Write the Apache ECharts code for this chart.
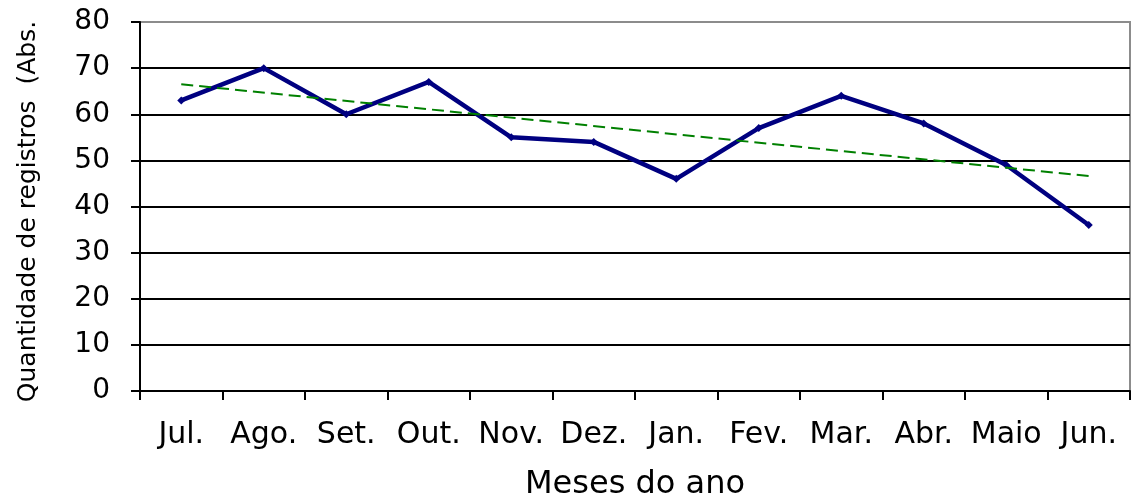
<!DOCTYPE html>
<html>
<head>
<meta charset="utf-8">
<script src="https://cdn.jsdelivr.net/npm/echarts@6/dist/echarts.min.js"></script>
<style>html,body{margin:0;padding:0;background:#fff}#c{width:1131px;height:498px}</style>
</head>
<body>
<div id="c"></div>
<script>
const categories = ['Jul.', 'Ago.', 'Set.', 'Out.', 'Nov.', 'Dez.', 'Jan.', 'Fev.', 'Mar.', 'Abr.', 'Maio', 'Jun.'];
const registros = [63, 70, 60, 67, 55, 54, 46, 57, 64, 58, 49, 36];
const trendStart = 66.5;
const trendEnd = 46.6;
const yTicks = [0, 80, 10];

const FONT = 'DejaVu Sans';
const chart = echarts.init(document.getElementById('c'), null, {renderer: 'canvas'});
chart.setOption({
  animation: false,
  backgroundColor: '#fff',
  grid: {left: 140, right: 1, top: 22, bottom: 107, show: true, borderColor: '#8c8c8c', borderWidth: 2,
         backgroundColor: 'transparent', containLabel: false, outerBoundsMode: 'none'},
  xAxis: {
    type: 'category',
    data: categories,
    boundaryGap: true,
    name: 'Meses do ano',
    nameLocation: 'middle',
    nameGap: 78,
    nameTextStyle: {fontFamily: FONT, fontSize: 32, color: '#000'},
    axisLine: {lineStyle: {color: '#000', width: 2}},
    axisTick: {show: true, length: 9, lineStyle: {color: '#000', width: 2}, alignWithLabel: false},
    axisLabel: {fontFamily: FONT, fontSize: 30, color: '#000', margin: 29, interval: 0},
    splitLine: {show: false}
  },
  yAxis: {
    type: 'value',
    min: yTicks[0], max: yTicks[1], interval: yTicks[2],
    name: 'Quantidade de registros  (Abs.',
    nameLocation: 'middle',
    nameGap: 99,
    nameRotate: 90,
    nameTextStyle: {fontFamily: FONT, fontSize: 25, color: '#000', padding: [0, 10, 0, 0]},
    axisLine: {show: true, lineStyle: {color: '#000', width: 2}},
    axisTick: {show: true, length: 9, lineStyle: {color: '#000', width: 2}},
    axisLabel: {fontFamily: FONT, fontSize: 28, color: '#000', margin: 30},
    splitLine: {show: true, lineStyle: {color: ['#000','#000','#000','#000','#000','#000','#000','#000','#8c8c8c'], width: 2}}
  },
  series: [
    {
      type: 'line',
      data: registros,
      symbol: 'diamond',
      symbolSize: 8,
      lineStyle: {color: '#000080', width: 4.5},
      itemStyle: {color: '#000080'},
      z: 3
    },
    {
      type: 'line',
      data: [[categories[0], trendStart], [categories[categories.length - 1], trendEnd]],
      symbol: 'none',
      lineStyle: {color: '#008000', width: 2, type: [12, 6]},
      z: 4
    }
  ]
});
</script>
</body>
</html>
